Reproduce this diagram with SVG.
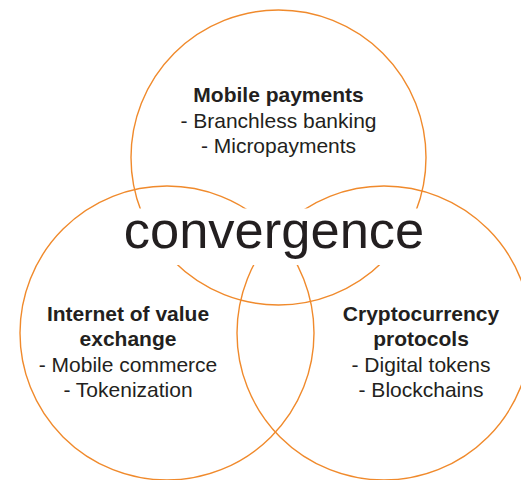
<svg xmlns="http://www.w3.org/2000/svg" width="521" height="480" viewBox="0 0 521 480">
<style>
.ring{fill:none;stroke:#f08a2c;stroke-width:1.4}
.t{font-family:"Liberation Sans",Arial,sans-serif;fill:#231f20;text-anchor:middle;font-size:21px}
.b{font-weight:bold}
.big{font-family:"Liberation Sans",Arial,sans-serif;fill:#231f20;text-anchor:middle;font-size:52.5px}
</style>
<rect width="521" height="480" fill="#ffffff"/>
<g id="circle-mobile"><circle class="ring" cx="278.5" cy="157.5" r="147.5"/></g>
<g id="circle-internet"><circle class="ring" cx="167" cy="333" r="147"/></g>
<g id="circle-crypto"><circle class="ring" cx="384" cy="333" r="147"/></g>
<g id="convergence">
<rect x="118" y="208.5" width="314" height="56.5" fill="#ffffff"/>
<text class="big" x="274" y="248">convergence</text>
</g>
<g id="label-mobile">
<text class="t b" x="278.5" y="102">Mobile payments</text>
<text class="t" x="278.5" y="127.5">- Branchless banking</text>
<text class="t" x="278.5" y="153">- Micropayments</text>
</g>
<g id="label-internet">
<text class="t b" x="128" y="321">Internet of value</text>
<text class="t b" x="128" y="346">exchange</text>
<text class="t" x="128" y="371.5">- Mobile commerce</text>
<text class="t" x="128" y="397">- Tokenization</text>
</g>
<g id="label-crypto">
<text class="t b" x="421" y="321">Cryptocurrency</text>
<text class="t b" x="421" y="346">protocols</text>
<text class="t" x="421" y="371.5">- Digital tokens</text>
<text class="t" x="421" y="397">- Blockchains</text>
</g>
<g id="connectors"></g>
</svg>
